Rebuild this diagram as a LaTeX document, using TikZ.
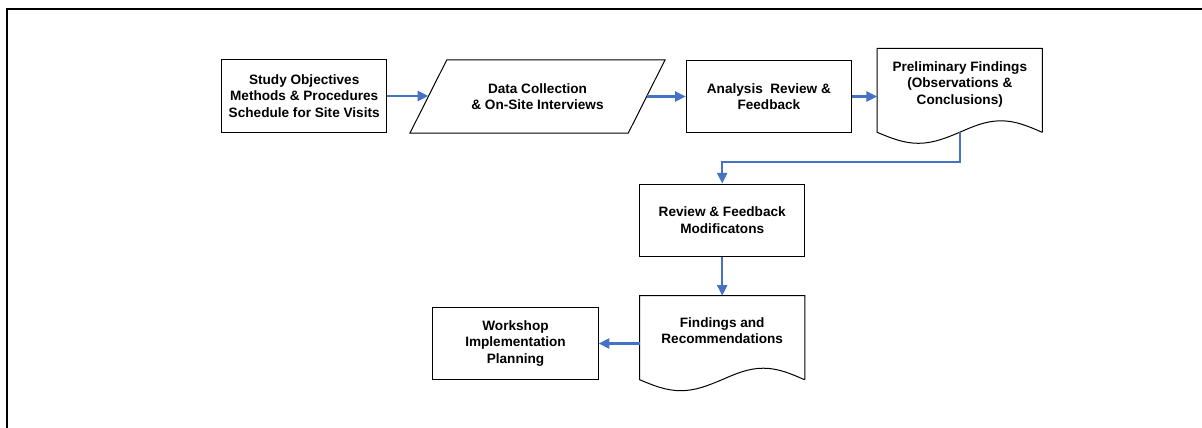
\documentclass[tikz,border=0pt]{standalone}
\usepackage{fontspec}
\setmainfont{Liberation Sans}
\usetikzlibrary{arrows.meta,calc}
\definecolor{flowblue}{RGB}{68,114,196}
\begin{document}
\begin{tikzpicture}[x=0.75pt, y=-0.75pt,
    font=\fontsize{10.2}{12.4}\selectfont\bfseries,
    box/.style={draw, line width=0.75pt, minimum width=124pt, minimum height=54pt, inner sep=0pt, align=center},
    iobox/.style={minimum width=163.7pt, minimum height=54.75pt, inner sep=0pt, outer sep=0pt, align=center},
    docbox/.style={minimum width=124pt, minimum height=63pt, inner sep=0pt, outer sep=0pt, align=center, text depth=11pt},
    flow/.style={-{Triangle[length=8pt,width=7.5pt]}, line width=1.7pt, flowblue}]
        \useasboundingbox (0,0) rectangle (1202,428);
        % Frame
        \draw[line width=1.9pt] (7,428) -- (7,9.2) -- (1202,9.2);
        % Top row
        \node[box] (study) at (304.2,96) {Study Objectives\\Methods \& Procedures\\Schedule for Site Visits};
        \node[iobox] (data) at (537.5,96.5) {Data Collection\\\& On-Site Interviews};
        \node[box] (analysis) at (768.9,96.5) {Analysis~~Review \&\\Feedback};
        \node[docbox] (prelim) at (959.8,90.3) {Preliminary Findings\\(Observations \&\\Conclusions)};
        % Lower steps
        \node[box] (review) at (722.2,220) {Review \& Feedback\\Modificatons};
        \node[docbox] (findings) at (722.2,337.7) {Findings and\\Recommendations};
        \node[box] (workshop) at (515.5,343.5) {Workshop\\Implementation\\Planning};
        % Outlines
        \draw[line width=0.75pt] ($(data.north west)+(18.35,0)$) -- ($(data.north east)+(18.35,0)$)
          -- ($(data.south east)+(-18.35,0)$) -- ($(data.south west)+(-18.35,0)$) -- cycle;
        \foreach \d in {prelim,findings} {
          \draw[line width=0.75pt] (\d.south east) -- (\d.north east) -- (\d.north west) -- (\d.south west)
            sin ++(41.25,11) cos ++(41.25,-11) sin ++(41.25,-11.5) cos ++(41.25,11.5);
        }
        % Arrows
        \draw[flow] (study.east) -- (study.east -| data.west);
        \draw[flow] (data.east) -- (data.east -| analysis.west);
        \draw[flow] (analysis.east) -- (analysis.east -| prelim.west);
        \draw[flow] (prelim.south) -- ++(0,30) -| (review.north);
        \draw[flow] (review.south) -- (findings.north);
        \draw[flow] (workshop.east -| findings.west) -- (workshop.east);
\end{tikzpicture}
\end{document}
